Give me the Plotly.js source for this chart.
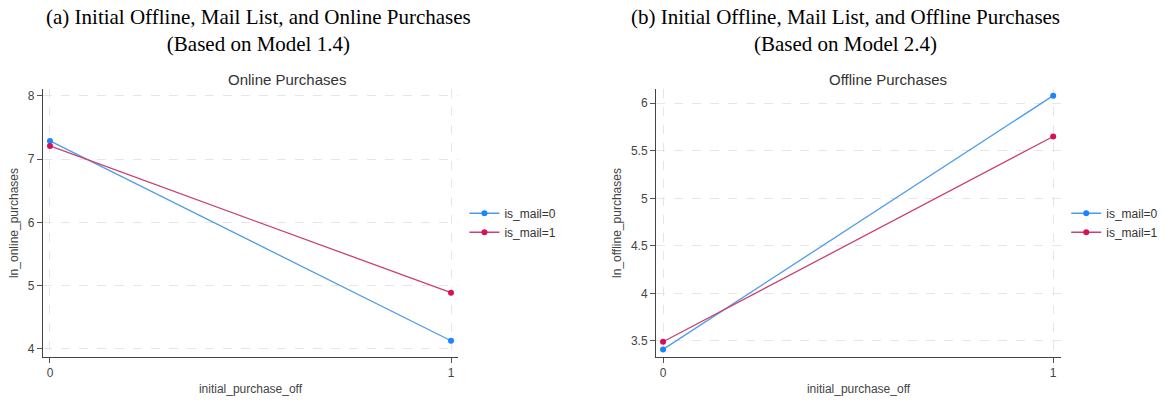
<!DOCTYPE html>
<html>
<head>
<meta charset="utf-8">
<script src="https://cdn.plot.ly/plotly-3.0.1.min.js"></script>
<style>body{margin:0;padding:0;background:#fff}#chart{width:1164px;height:405px}</style>
</head>
<body>
<div id="chart"></div>
<script>
// Data
const xCats = [0, 1];
const onlineMail0 = [7.29, 4.13];
const onlineMail1 = [7.21, 4.89];
const offlineMail0 = [3.41, 6.08];
const offlineMail1 = [3.49, 5.65];
const seriesNames = ["is_mail=0", "is_mail=1"];
const panelHeaders = ["(a) Initial Offline, Mail List, and Online Purchases<br>(Based on Model 1.4)",
                      "(b) Initial Offline, Mail List, and Offline Purchases<br>(Based on Model 2.4)"];
const panelTitles = ["Online Purchases", "Offline Purchases"];
const yTitles = ["ln_online_purchases", "ln_offline_purchases"];
const xTitle = "initial_purchase_off";
const leftTicks = [4, 5, 6, 7, 8];
const rightTicks = [3.5, 4, 4.5, 5, 5.5, 6];

const blueLine = "#4f9de6", blueMark = "#1a85ff";
const redLine = "#c8416f", redMark = "#d41159";

function tr(y, name, lc, mc, xa, ya, leg) {
  return {x: xCats, y: y, name: name, type: "scatter", mode: "lines+markers",
    line: {color: lc, width: 1.3}, marker: {color: mc, size: 6},
    xaxis: xa, yaxis: ya, legend: leg};
}
const data = [
  tr(onlineMail0, seriesNames[0], blueLine, blueMark, "x", "y", "legend"),
  tr(onlineMail1, seriesNames[1], redLine, redMark, "x", "y", "legend"),
  tr(offlineMail0, seriesNames[0], blueLine, blueMark, "x2", "y2", "legend2"),
  tr(offlineMail1, seriesNames[1], redLine, redMark, "x2", "y2", "legend2")
];

const font = {family: "Liberation Sans, Arial, sans-serif", size: 12, color: "#333"};
function xax(domain, range) {
  return {domain: domain, range: range, tickvals: xCats, ticktext: xCats.map(String),
    showline: true, linecolor: "#444", linewidth: 1, ticks: "outside", ticklen: 5, tickcolor: "#555",
    showgrid: true, gridcolor: "#e6e6e6", griddash: "dash", gridwidth: 1, zeroline: false,
    tickfont: {size: 12, color: "#444"},
    title: {text: xTitle, font: {size: 12, color: "#444"}, standoff: 5}};
}
function yax(domain, range, ticks, anchor, title) {
  return {domain: domain, range: range, tickvals: ticks, anchor: anchor,
    showline: true, linecolor: "#444", linewidth: 1, ticks: "outside", ticklen: 5, tickcolor: "#555",
    showgrid: true, gridcolor: "#e6e6e6", griddash: "dash", gridwidth: 1, zeroline: false,
    tickfont: {size: 12, color: "#444"},
    title: {text: title, font: {size: 12, color: "#444"}, standoff: 6}};
}
const yDom = [0.1185, 0.7802];
const layout = {
  width: 1164, height: 405, margin: {l: 0, r: 0, t: 0, b: 0},
  paper_bgcolor: "#fff", plot_bgcolor: "#fff", font: font,
  xaxis: Object.assign(xax([0.0369, 0.3935], [-0.0175, 1.0175]), {anchor: "y"}),
  yaxis: yax(yDom, [3.873, 8.11], leftTicks, "x", yTitles[0]),
  xaxis2: Object.assign(xax([0.5636, 0.9115], [-0.018, 1.02]), {anchor: "y2"}),
  yaxis2: yax(yDom, [3.33, 6.15], rightTicks, "x2", yTitles[1]),
  legend: {x: 0.399, y: 0.45, xanchor: "left", yanchor: "middle", font: {size: 12, color: "#333"},
    bgcolor: "rgba(0,0,0,0)", tracegroupgap: 0, itemwidth: 30},
  legend2: {x: 0.916, y: 0.45, xanchor: "left", yanchor: "middle", font: {size: 12, color: "#333"},
    bgcolor: "rgba(0,0,0,0)", tracegroupgap: 0, itemwidth: 30},
  annotations: [
    {text: panelHeaders[0], x: 258/1164, y: 1 - 3/405, xref: "paper", yref: "paper", xanchor: "center", yanchor: "top",
     showarrow: false, font: {family: "Liberation Serif, Times New Roman, serif", size: 21, color: "#000"}},
    {text: panelHeaders[1], x: 845/1164, y: 1 - 3/405, xref: "paper", yref: "paper", xanchor: "center", yanchor: "top",
     showarrow: false, font: {family: "Liberation Serif, Times New Roman, serif", size: 21, color: "#000"}},
    {text: panelTitles[0], x: 287/1164, y: 1 - 79/405, xref: "paper", yref: "paper", xanchor: "center", yanchor: "middle",
     showarrow: false, font: {size: 15, color: "#333"}},
    {text: panelTitles[1], x: 888/1164, y: 1 - 79/405, xref: "paper", yref: "paper", xanchor: "center", yanchor: "middle",
     showarrow: false, font: {size: 15, color: "#333"}}
  ]
};
Plotly.newPlot("chart", data, layout, {displayModeBar: false, staticPlot: true});
</script>
</body>
</html>
